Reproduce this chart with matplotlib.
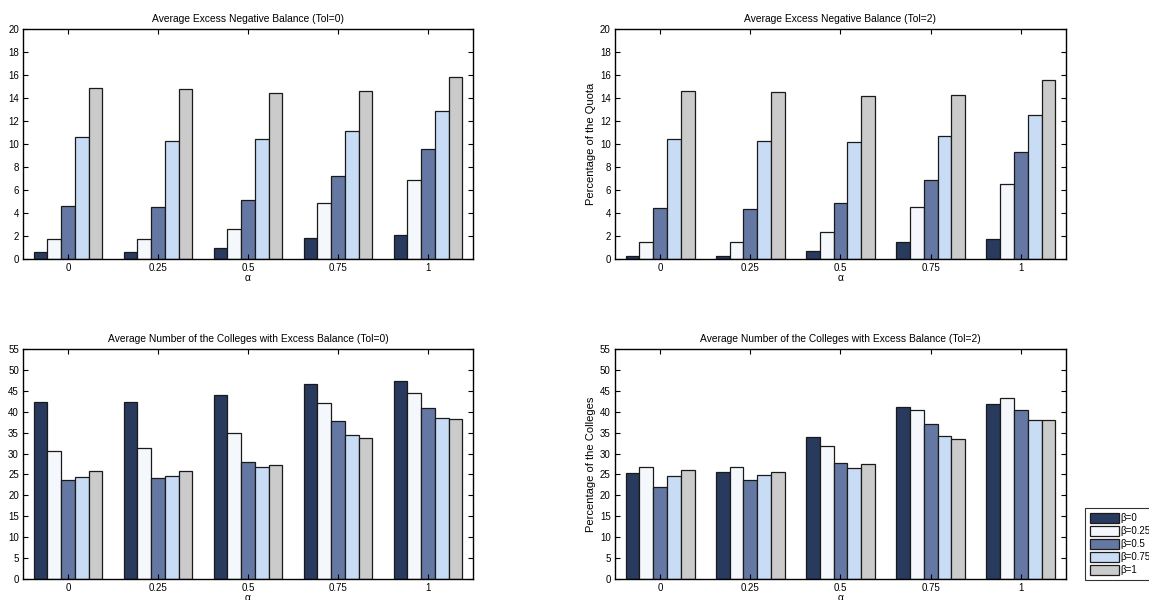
import numpy as np
import matplotlib
matplotlib.use('Agg')
import matplotlib.pyplot as plt

plt.rcParams['font.family'] = ['Liberation Sans', 'DejaVu Sans']

alpha_labels = ['0', '0.25', '0.5', '0.75', '1']
beta_labels = ['\u03b2=0', '\u03b2=0.25', '\u03b2=0.5', '\u03b2=0.75', '\u03b2=1']
colors = ['#283a5e', '#f4f8fc', '#6578a3', '#c8ddf5', '#cbcbcb']

# rows: alpha groups, columns: beta series
neg_tol0 = [[0.6, 1.7, 4.6, 10.6, 14.9],
            [0.6, 1.7, 4.5, 10.3, 14.8],
            [1.0, 2.6, 5.1, 10.4, 14.4],
            [1.8, 4.9, 7.2, 11.1, 14.6],
            [2.1, 6.9, 9.6, 12.9, 15.8]]
neg_tol2 = [[0.3, 1.45, 4.4, 10.4, 14.6],
            [0.3, 1.45, 4.35, 10.25, 14.5],
            [0.7, 2.35, 4.9, 10.15, 14.2],
            [1.45, 4.5, 6.85, 10.7, 14.3],
            [1.75, 6.55, 9.3, 12.5, 15.6]]
col_tol0 = [[42.3, 30.6, 23.6, 24.5, 25.9],
            [42.4, 31.4, 24.2, 24.7, 25.8],
            [44.0, 34.8, 28.1, 26.8, 27.3],
            [46.6, 42.1, 37.9, 34.5, 33.8],
            [47.3, 44.4, 40.9, 38.5, 38.2]]
col_tol2 = [[25.3, 26.9, 22.1, 24.6, 26.0],
            [25.7, 26.9, 23.6, 24.8, 25.7],
            [33.9, 31.8, 27.7, 26.6, 27.6],
            [41.1, 40.3, 37.1, 34.1, 33.6],
            [41.8, 43.3, 40.3, 38.0, 38.1]]

panels = [
    (neg_tol0, 'Average Excess Negative Balance (Tol=0)', None, 20, 2),
    (neg_tol2, 'Average Excess Negative Balance (Tol=2)', 'Percentage of the Quota', 20, 2),
    (col_tol0, 'Average Number of the Colleges with Excess Balance (Tol=0)', None, 55, 5),
    (col_tol2, 'Average Number of the Colleges with Excess Balance (Tol=2)', 'Percentage of the Colleges', 55, 5),
]
positions = [
    [0.0200, 0.5683, 0.3916, 0.3833],
    [0.5352, 0.5683, 0.3925, 0.3833],
    [0.0200, 0.0350, 0.3916, 0.3833],
    [0.5352, 0.0350, 0.3925, 0.3833],
]

fig = plt.figure(figsize=(11.49, 6.0), dpi=100)
x = np.arange(1, 6)
w = 0.153
handles = []
for (data, title, ylabel, ymax, ystep), pos in zip(panels, positions):
    ax = fig.add_axes(pos)
    vals = np.array(data)
    handles = []
    for j in range(5):
        b = ax.bar(x + (j - 2) * w, vals[:, j], width=w, color=colors[j],
                   edgecolor='#1a1a1a', linewidth=0.9, label=beta_labels[j])
        handles.append(b)
    ax.set_xlim(0.5, 5.5)
    ax.set_ylim(0, ymax)
    ax.set_xticks(x)
    ax.set_xticklabels(alpha_labels)
    ax.set_yticks(np.arange(0, ymax + 0.1, ystep))
    ax.tick_params(direction='in', top=True, right=True, length=3.5,
                   width=0.8, labelsize=7, pad=3)
    for s in ax.spines.values():
        s.set_linewidth(1.0)
    ax.set_title(title, fontsize=7.4, pad=5)
    ax.set_xlabel('\u03b1', fontsize=7.5, labelpad=0)
    if ylabel:
        ax.set_ylabel(ylabel, fontsize=8, labelpad=3)

leg = fig.legend(handles, beta_labels, loc='lower left',
                 bbox_to_anchor=(0.944, 0.033), fontsize=7,
                 frameon=True, fancybox=False, edgecolor='black',
                 handlelength=3.0, handleheight=1.15, labelspacing=0.3,
                 handletextpad=0.2, borderpad=0.5, borderaxespad=0)
leg.get_frame().set_linewidth(0.8)

fig.savefig('out.png', dpi=100)
